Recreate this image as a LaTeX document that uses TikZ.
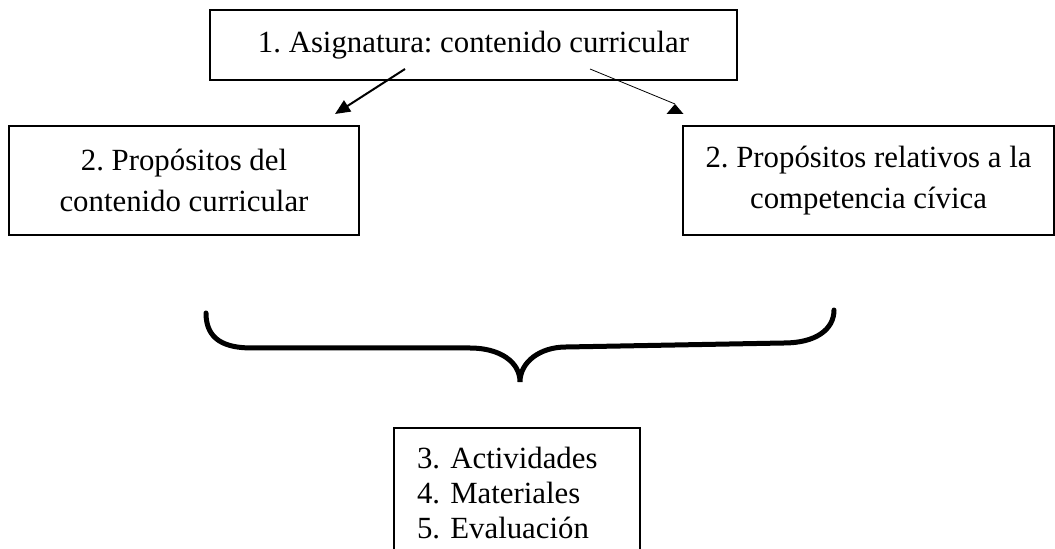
\documentclass[tikz,border=0pt]{standalone}
\usepackage{fontspec}
\setmainfont{Liberation Serif}
\usetikzlibrary{
  arrows.meta
}

\begin{document}
\frenchspacing
\begin{tikzpicture}[
  x=0.5pt, y=-0.5pt,
  caja/.style={draw, line width=0.65pt, inner sep=0pt, align=center,
    font=\fontsize{15.4}{20.5}\selectfont},
  flecha/.style={line width=1pt, -{Triangle[length=7.5pt,width=6.5pt]}},
]
\useasboundingbox (0,0) rectangle (1055,549);
\node[caja, minimum width=263.5pt, minimum height=35pt] (asig) at (473.5,45)
  {1. Asignatura: contenido curricular};
\node[caja, minimum width=175pt, minimum height=54.5pt] (propA) at (184,180.5)
  {2. Propósitos del\\contenido curricular};
\node[caja, minimum width=185.5pt, minimum height=54.5pt] (propB) at (868.5,180.5)
  {2. Propósitos relativos a la\\competencia cívica};
\node[caja, align=left, text width=100pt, inner xsep=11.5pt,
  minimum height=65pt, font=\fontsize{15.4}{17.5}\selectfont] (activ) at (517,493)
  {3. Actividades\\4. Materiales\\5. Evaluación};
\coordinate (izqA) at (405,69);
\coordinate (izqB) at (335,114);
\coordinate (derA) at (590,69);
\coordinate (derB) at (675,104);
\draw[flecha] (izqA) -- (izqB);
\draw[line width=0.4pt] (derA) -- (derB);
\fill (derB) -- ++(-8.5,10) -- ++(17,0) -- cycle;
\draw[line width=2.5pt, line cap=round]
  (206,313) .. controls (206,340) and (225,348) .. (252,348)
  -- (470,348) .. controls (500,348) and (520,362) .. (520,382)
  .. controls (520,362) and (540,347) .. (566,347)
  -- (784,343) .. controls (815,343) and (834,330) .. (834,310);
\end{tikzpicture}
\end{document}
